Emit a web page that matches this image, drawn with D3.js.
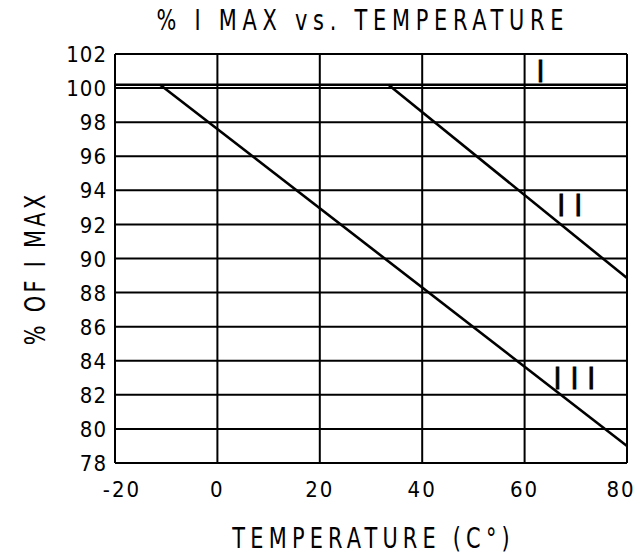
<!DOCTYPE html>
<html>
<head>
<meta charset="utf-8">
<script src="https://cdn.jsdelivr.net/npm/d3@7"></script>
<style>
  html, body { margin: 0; padding: 0; background: #fff; }
  text { font-family: "DejaVu Sans Condensed", "DejaVu Sans", sans-serif; fill: #000; }
</style>
</head>
<body>
<div id="chart"></div>
<script>
// Data
const xTicks = [-20, 0, 20, 40, 60, 80];
const yTicks = [78, 80, 82, 84, 86, 88, 90, 92, 94, 96, 98, 100, 102];
const seriesNames = ["I", "II", "III"];
const seriesTemps = [[-20, 80], [33.4, 80], [-11.2, 80]];
const seriesValues = [[100.2, 100.2], [100.2, 88.85], [100.2, 79.0]];
const labelTemps = [64.0, 69.7, 70.6];
const labelValues = [101.0, 93.14, 83.0];

const width = 638, height = 554;
const margin = { top: 54, right: 11, bottom: 91, left: 115 };

const svg = d3.select("#chart").append("svg")
  .attr("width", width)
  .attr("height", height);

const x = d3.scaleLinear().domain([-20, 80]).range([margin.left, width - margin.right]);
const y = d3.scaleLinear().domain([78, 102]).range([height - margin.bottom, margin.top]);

// narrow, widely spaced lettering like the drafting font
function label(g, tx, ty, rot, txt, size, spacing, sx) {
  return g.append("g")
    .attr("transform", `translate(${tx},${ty}) rotate(${rot}) scale(${sx},1)`)
    .append("text")
    .attr("x", spacing / 2)
    .attr("text-anchor", "middle")
    .style("font-size", size + "px")
    .style("letter-spacing", spacing + "px")
    .text(txt);
}

// grid
svg.append("g")
  .selectAll("line")
  .data(xTicks)
  .enter().append("line")
  .attr("x1", d => x(d)).attr("x2", d => x(d))
  .attr("y1", y(78)).attr("y2", y(102))
  .attr("stroke", "#000").attr("stroke-width", 2);

svg.append("g")
  .selectAll("line")
  .data(yTicks)
  .enter().append("line")
  .attr("x1", x(-20)).attr("x2", x(80))
  .attr("y1", d => y(d)).attr("y2", d => y(d))
  .attr("stroke", "#000").attr("stroke-width", 2);

// tick labels
svg.append("g")
  .selectAll("text")
  .data(yTicks)
  .enter().append("text")
  .attr("x", x(-20) - 8)
  .attr("y", d => y(d))
  .attr("dy", "0.37em")
  .attr("text-anchor", "end")
  .style("font-size", "22px")
  .style("letter-spacing", "1px")
  .text(d => d);

svg.append("g")
  .selectAll("text")
  .data(xTicks)
  .enter().append("text")
  .attr("x", d => x(d) + (d < 0 ? 7 : d === 80 ? -6 : 0))
  .attr("y", y(78) + 34)
  .attr("text-anchor", "middle")
  .style("font-size", "22px")
  .style("letter-spacing", "2px")
  .text(d => d);

// series lines
const line = d3.line().x(d => x(d[0])).y(d => y(d[1]));
seriesNames.forEach((name, i) => {
  const pts = seriesTemps[i].map((t, j) => [t, seriesValues[i][j]]);
  svg.append("path")
    .attr("d", line(pts))
    .attr("fill", "none")
    .attr("stroke", "#000")
    .attr("stroke-width", 2.6);
  svg.append("text")
    .attr("x", x(labelTemps[i]))
    .attr("y", y(labelValues[i]))
    .attr("dy", "0.36em")
    .attr("text-anchor", "middle")
    .style("font-size", "30px")
    .style("letter-spacing", "9px")
    .style("stroke", "#000")
    .style("stroke-width", "0.8px")
    .text(name);
});

// titles
label(svg, 360, 30, 0, "% I MAX vs. TEMPERATURE", 29, 7.2, 0.8);
label(svg, 371, 548, 0, "TEMPERATURE (C°)", 29, 6.5, 0.8);
label(svg, 45, 270, -90, "% OF I MAX", 29, 4.1, 0.8);
</script>
</body>
</html>
